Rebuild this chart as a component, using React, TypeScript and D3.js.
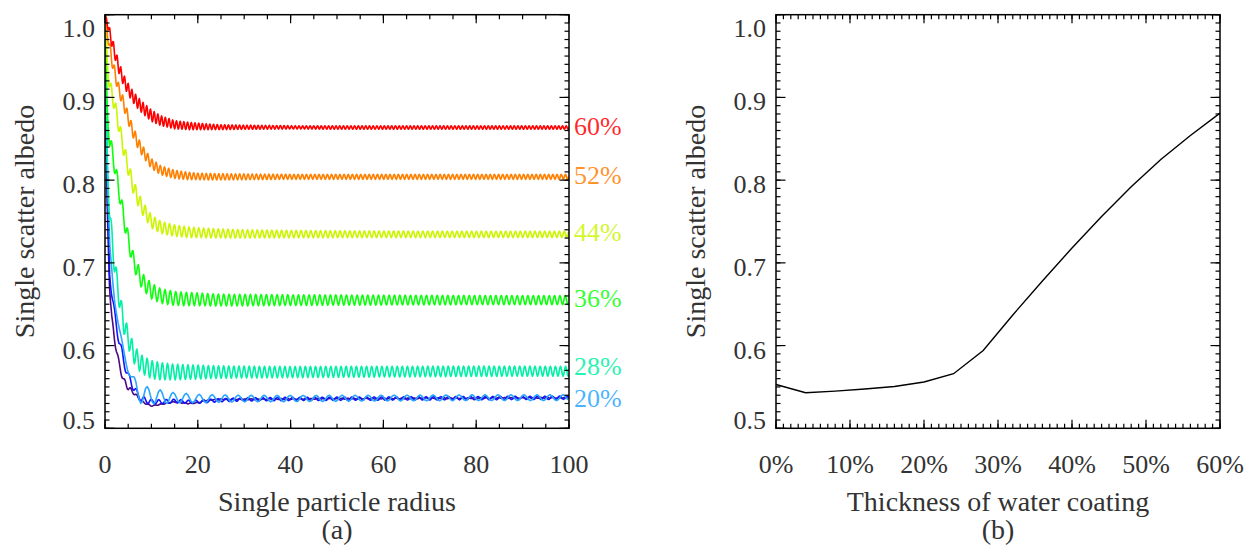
import React, { useEffect } from 'react';
import * as d3 from 'd3';

// ---------- Panel (a): albedo vs single particle radius ----------
const RADII = [0, 0.25, 0.5, 1, 1.5, 2, 3, 4, 5, 6, 7, 8, 10, 12, 15, 18, 20, 22, 25, 30, 40, 60, 80, 100];

const COATINGS = ['4%', '12%', '20%', '28%', '36%', '44%', '52%', '60%'];
const COLORS = ['#4b0a80', '#1414ff', '#2aa6ff', '#00f0a4', '#0cff0c', '#ccf500', '#ff8000', '#ff0000'];
const SHOW_LABEL = [false, false, true, true, true, true, true, true];
const LABEL_NUDGE = [0, 0, 2, -3, 0, 0, 0, 0];
const RIPPLE_PERIOD = [1.3, 1.6, 2.8, 1.1, 1.15, 1.05, 0.9, 0.8];

const MEAN_04 = [1.0, 0.84, 0.76, 0.67, 0.63, 0.61, 0.578, 0.558, 0.549, 0.544, 0.538, 0.532, 0.527, 0.529, 0.532, 0.530, 0.531, 0.534, 0.535, 0.535, 0.5355, 0.536, 0.5365, 0.537];
const AMP_04 = [0, 0.003, 0.004, 0.004, 0.004, 0.004, 0.004, 0.0035, 0.003, 0.002, 0.0015, 0.001, 0.0005, 0.0005, 0.0005, 0.0005, 0.0005, 0.0005, 0.0005, 0.0005, 0.0005, 0.0005, 0.0005, 0.0005];
const MEAN_12 = [1.0, 0.86, 0.78, 0.69, 0.66, 0.64, 0.607, 0.582, 0.563, 0.551, 0.541, 0.535, 0.532, 0.532, 0.533, 0.532, 0.532, 0.533, 0.534, 0.535, 0.5355, 0.536, 0.5365, 0.537];
const AMP_12 = [0, 0.004, 0.006, 0.006, 0.006, 0.006, 0.006, 0.006, 0.005, 0.0045, 0.004, 0.004, 0.003, 0.0025, 0.0022, 0.002, 0.002, 0.002, 0.002, 0.002, 0.002, 0.002, 0.002, 0.002];
const MEAN_20 = [1.0, 0.88, 0.8, 0.72, 0.69, 0.66, 0.62, 0.593, 0.572, 0.556, 0.545, 0.541, 0.539, 0.538, 0.537, 0.5365, 0.536, 0.536, 0.536, 0.536, 0.536, 0.5365, 0.537, 0.537];
const AMP_20 = [0, 0.003, 0.004, 0.004, 0.004, 0.004, 0.004, 0.004, 0.005, 0.008, 0.012, 0.012, 0.0095, 0.0085, 0.006, 0.0055, 0.005, 0.0048, 0.0045, 0.004, 0.0038, 0.0035, 0.0035, 0.0035];
const MEAN_28 = [1.0, 0.9, 0.82, 0.76, 0.73, 0.70, 0.66, 0.628, 0.609, 0.593, 0.583, 0.577, 0.571, 0.569, 0.568, 0.568, 0.568, 0.568, 0.568, 0.568, 0.568, 0.5685, 0.569, 0.569];
const AMP_28 = [0, 0.005, 0.008, 0.011, 0.012, 0.012, 0.012, 0.012, 0.012, 0.012, 0.0115, 0.011, 0.011, 0.0105, 0.0095, 0.0088, 0.0085, 0.008, 0.0075, 0.0072, 0.0068, 0.0065, 0.0062, 0.006];
const MEAN_36 = [1.0, 0.93, 0.88, 0.848, 0.835, 0.82, 0.788, 0.756, 0.728, 0.705, 0.69, 0.678, 0.666, 0.660, 0.657, 0.6562, 0.656, 0.6555, 0.655, 0.655, 0.655, 0.655, 0.655, 0.655];
const AMP_36 = [0, 0.005, 0.008, 0.01, 0.01, 0.01, 0.01, 0.01, 0.01, 0.01, 0.01, 0.0098, 0.0095, 0.009, 0.0085, 0.008, 0.0078, 0.0075, 0.0072, 0.007, 0.0065, 0.006, 0.0056, 0.0055];
const MEAN_44 = [1.0, 0.97, 0.94, 0.915, 0.903, 0.893, 0.866, 0.838, 0.815, 0.794, 0.779, 0.767, 0.750, 0.743, 0.739, 0.737, 0.7365, 0.736, 0.7355, 0.735, 0.7348, 0.7345, 0.7345, 0.7345];
const AMP_44 = [0, 0.004, 0.007, 0.009, 0.009, 0.009, 0.009, 0.009, 0.009, 0.009, 0.0088, 0.0085, 0.008, 0.0075, 0.007, 0.0065, 0.006, 0.0058, 0.0055, 0.005, 0.0045, 0.004, 0.0038, 0.0038];
const MEAN_52 = [1.0, 0.988, 0.978, 0.96, 0.945, 0.932, 0.909, 0.893, 0.875, 0.859, 0.846, 0.836, 0.82, 0.812, 0.807, 0.805, 0.8045, 0.8042, 0.804, 0.804, 0.804, 0.804, 0.804, 0.804];
const AMP_52 = [0, 0.003, 0.005, 0.007, 0.007, 0.007, 0.007, 0.007, 0.007, 0.007, 0.0068, 0.0065, 0.006, 0.0055, 0.005, 0.0045, 0.004, 0.004, 0.0038, 0.0035, 0.003, 0.003, 0.003, 0.003];
const MEAN_60 = [1.0, 0.995, 0.99, 0.978, 0.967, 0.956, 0.936, 0.921, 0.910, 0.901, 0.894, 0.888, 0.878, 0.872, 0.867, 0.8655, 0.865, 0.8645, 0.864, 0.864, 0.8638, 0.8636, 0.8636, 0.8636];
const AMP_60 = [0, 0.002, 0.004, 0.006, 0.007, 0.007, 0.007, 0.007, 0.007, 0.007, 0.007, 0.007, 0.007, 0.006, 0.005, 0.0045, 0.004, 0.0035, 0.003, 0.0025, 0.002, 0.002, 0.002, 0.002];

const MEANS = [MEAN_04, MEAN_12, MEAN_20, MEAN_28, MEAN_36, MEAN_44, MEAN_52, MEAN_60];
const AMPS = [AMP_04, AMP_12, AMP_20, AMP_28, AMP_36, AMP_44, AMP_52, AMP_60];

const RADIUS_TICKS = [0, 20, 40, 60, 80, 100];
const ALBEDO_TICKS = [0.5, 0.6, 0.7, 0.8, 0.9, 1.0];

// ---------- Panel (b): albedo vs thickness of water coating ----------
const THICKNESS = [0, 4, 8, 12, 16, 20, 24, 28, 32, 36, 40, 44, 48, 52, 56, 60];
const ALBEDO_AVG = [0.553, 0.543, 0.545, 0.5475, 0.5505, 0.556, 0.566, 0.594, 0.637, 0.678, 0.718, 0.756, 0.792, 0.825, 0.854, 0.881];
const THICKNESS_TICKS = [0, 10, 20, 30, 40, 50, 60];

const FONT = 'Liberation Serif, DejaVu Serif, serif';
const TEXT = '#333';
const TOP = 14.7;
const BOTTOM = 428.3;

type Frame = { x0: number; x1: number };
const FA: Frame = { x0: 105, x1: 569 };
const FB: Frame = { x0: 776, x1: 1220 };

const yScale = d3.scaleLinear().domain([0.5, 1.0]).range([BOTTOM, TOP]);

function Axes({ x, fr, majors, minors, fmt }: any) {
  const yMaj = ALBEDO_TICKS;
  const yMin = d3.range(50, 101).map((v) => v / 100);
  const els: any[] = [];
  minors.forEach((v: number, i: number) => {
    const px = x(v);
    els.push(<line key={'bxm' + i} x1={px} x2={px} y1={BOTTOM} y2={BOTTOM - 4.5} />);
    els.push(<line key={'txm' + i} x1={px} x2={px} y1={TOP} y2={TOP + 4.5} />);
  });
  majors.forEach((v: number, i: number) => {
    const px = x(v);
    els.push(<line key={'bxM' + i} x1={px} x2={px} y1={BOTTOM} y2={BOTTOM - 8.5} />);
    els.push(<line key={'txM' + i} x1={px} x2={px} y1={TOP} y2={TOP + 8.5} />);
  });
  yMin.forEach((v, i) => {
    const py = yScale(v);
    els.push(<line key={'lym' + i} x1={fr.x0} x2={fr.x0 + 4.5} y1={py} y2={py} />);
    els.push(<line key={'rym' + i} x1={fr.x1} x2={fr.x1 - 4.5} y1={py} y2={py} />);
  });
  yMaj.forEach((v, i) => {
    const py = yScale(v);
    els.push(<line key={'lyM' + i} x1={fr.x0} x2={fr.x0 + 9.5} y1={py} y2={py} />);
    els.push(<line key={'ryM' + i} x1={fr.x1} x2={fr.x1 - 9.5} y1={py} y2={py} />);
  });
  return (
    <g>
      <g stroke="#000" strokeWidth={1.2}>{els}</g>
      <rect x={fr.x0} y={TOP} width={fr.x1 - fr.x0} height={BOTTOM - TOP} fill="none" stroke="#000" strokeWidth={1.5} />
      <g style={{ fontFamily: FONT }} fontSize={26} fill={TEXT}>
        {majors.map((v: number, i: number) => (
          <text key={'xl' + i} x={x(v)} y={473} textAnchor="middle">{fmt(v)}</text>
        ))}
        {yMaj.map((v, i) => {
          const c = Math.min(Math.max(yScale(v) + 4, TOP + 13), BOTTOM - 8);
          return (
            <text key={'yl' + i} x={fr.x0 - 10} y={c + 9} textAnchor="end">{v.toFixed(1)}</text>
          );
        })}
      </g>
    </g>
  );
}

export default function App() {
  useEffect(() => {
    document.body.style.margin = '0';
  }, []);

  const xA = d3.scaleLinear().domain([0, 100]).range([FA.x0, FA.x1]);
  const xB = d3.scaleLinear().domain([0, 60]).range([FB.x0, FB.x1]);

  const lineA = d3.line<[number, number]>().x((d) => xA(d[0])).y((d) => yScale(d[1]));
  const lineB = d3.line<number>().x((_, i) => xB(THICKNESS[i])).y((d) => yScale(d));

  const seriesPaths = COATINGS.map((c, k) => {
    const m = d3.scaleLinear().domain(RADII).range(MEANS[k]);
    const a = d3.scaleLinear().domain(RADII).range(AMPS[k]);
    const P = RIPPLE_PERIOD[k];
    const step = P / 8;
    const pts: [number, number][] = [];
    for (let i = 0; i * step <= 100 + 1e-9; i++) {
      const r = i * step;
      pts.push([r, m(r) + a(r) * Math.sin((2 * Math.PI * r) / P)]);
    }
    return lineA(pts) as string;
  });

  return (
    <svg width={1247} height={547} style={{ position: 'absolute', left: 0, top: 0, background: '#fff', fontFamily: FONT }}>
      <defs>
        <clipPath id="clipA">
          <rect x={FA.x0} y={TOP - 2} width={FA.x1 - FA.x0} height={BOTTOM - TOP + 2} />
        </clipPath>
      </defs>
      <rect x={0} y={0} width={1247} height={547} fill="#fff" />

      {/* Panel (a) */}
      <g clipPath="url(#clipA)">
        {seriesPaths.map((d, k) => (
          <path key={COATINGS[k]} d={d} fill="none" stroke={COLORS[k]} strokeWidth={1.6} strokeLinejoin="round" />
        ))}
      </g>
      <Axes x={xA} fr={FA} majors={RADIUS_TICKS} minors={d3.range(0, 101, 5)} fmt={(v: number) => String(v)} />
      <g style={{ fontFamily: FONT }} fontSize={26}>
        {COATINGS.map((c, k) =>
          SHOW_LABEL[k] ? (
            <text key={'lab' + c} x={FA.x1 + 5} y={yScale(MEANS[k][MEANS[k].length - 1]) + 7 + LABEL_NUDGE[k]} fill={COLORS[k]} fillOpacity={0.85}>
              {c}
            </text>
          ) : null
        )}
      </g>
      <g style={{ fontFamily: FONT }} fontSize={28} fill={TEXT} textAnchor="middle">
        <text x={(FA.x0 + FA.x1) / 2} y={511}>Single particle radius</text>
        <text x={(FA.x0 + FA.x1) / 2} y={539}>(a)</text>
        <text transform={`translate(34, ${(TOP + BOTTOM) / 2}) rotate(-90)`}>Single scatter albedo</text>
      </g>

      {/* Panel (b) */}
      <path d={lineB(ALBEDO_AVG) as string} fill="none" stroke="#000" strokeWidth={1.4} />
      <Axes x={xB} fr={FB} majors={THICKNESS_TICKS} minors={d3.range(0, 61, 1)} fmt={(v: number) => v + '%'} />
      <g style={{ fontFamily: FONT }} fontSize={28} fill={TEXT} textAnchor="middle">
        <text x={(FB.x0 + FB.x1) / 2} y={511}>Thickness of water coating</text>
        <text x={(FB.x0 + FB.x1) / 2} y={539}>(b)</text>
        <text transform={`translate(705, ${(TOP + BOTTOM) / 2}) rotate(-90)`}>Single scatter albedo</text>
      </g>
    </svg>
  );
}
